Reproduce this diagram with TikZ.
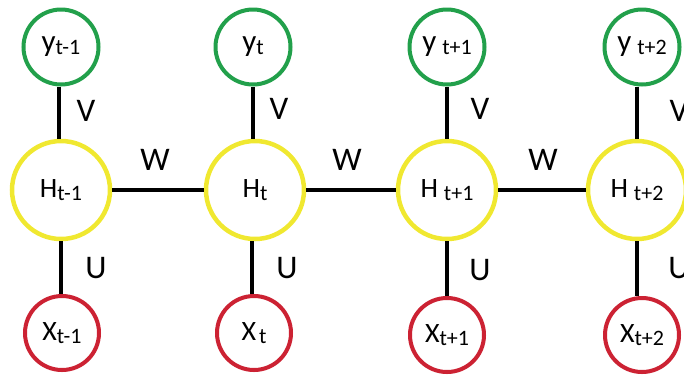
\documentclass[tikz,border=0pt]{standalone}
\usepackage{fontspec}
\setmainfont{Carlito}
\definecolor{cgrn}{RGB}{34,160,75}
\definecolor{cyel}{RGB}{240,232,48}
\definecolor{cred}{RGB}{204,34,51}
\newcommand\sbs[1]{\raisebox{-3pt}{\fontsize{22}{22}\selectfont #1}}
\newcommand\ylab[2]{{\fontsize{31}{31}\selectfont #1}#2}
\newcommand\hlab[2]{{\fontsize{28}{28}\selectfont #1}#2}
\newcommand\xlab[2]{{\fontsize{28}{28}\selectfont #1}#2}
\newcommand\gap{\hspace{6pt}}
\begin{document}
\begin{tikzpicture}[x=1pt,y=-1pt,
  outnode/.style={circle,draw=cgrn,line width=4pt,minimum size=75pt,inner sep=0pt},
  hidnode/.style={circle,draw=cyel,line width=4.5pt,minimum size=98pt,inner sep=0pt},
  innode/.style={circle,draw=cred,line width=4pt,minimum size=74pt,inner sep=0pt},
  conn/.style={line width=4.5pt,black},
  wlab/.style={font=\fontsize{33}{33}\selectfont,inner sep=0pt}]
\useasboundingbox (0,0) rectangle (684,376);
% columns
\node[outnode] (y1) at (61,47) {\ylab{y}{\sbs{t-1}}};
\node[outnode] (y2) at (253,47) {\ylab{y}{\sbs{t}}};
\node[outnode] (y3) at (447,47) {\ylab{y}{\gap\sbs{t+1}}};
\node[outnode] (y4) at (642,47) {\ylab{y}{\gap\sbs{t+2}}};
\node[hidnode] (h1) at (61,190) {\hlab{H}{\sbs{t-1}}};
\node[hidnode] (h2) at (255,190) {\hlab{H}{\sbs{t}}};
\node[hidnode] (h3) at (447,190) {\hlab{H}{\gap\sbs{t+1}}};
\node[hidnode] (h4) at (637,190) {\hlab{H}{\gap\sbs{t+2}}};
\node[innode] (x1) at (62,333) {\xlab{X}{\sbs{t-1}}};
\node[innode] (x2) at (254,333) {\xlab{X}{\hspace{3pt}\sbs{t}}};
\node[innode] (x3) at (447,335) {\xlab{X}{\sbs{t+1}}};
\node[innode] (x4) at (642,335) {\xlab{X}{\sbs{t+2}}};
% connectors
\draw[conn] (y1.south) ++(-2,0) coordinate (a1) -- (a1 |- h1.north);
\draw[conn] (y2.south) -- (y2.south |- h2.north);
\draw[conn] (y3.south) -- (y3.south |- h3.north);
\draw[conn] (h4.north) -- (h4.north |- y4.south);
\draw[conn] (h1.south) -- (h1.south |- x1.north);
\draw[conn] (h2.south) ++(-3,0) coordinate (b2) -- (b2 |- x2.north);
\draw[conn] (h3.south) -- (h3.south |- x3.north);
\draw[conn] (h4.south) -- (h4.south |- x4.north);
\draw[conn] (h1.east) -- (h2.west);
\draw[conn] (h2.east) -- (h3.west);
\draw[conn] (h3.east) -- (h4.west);
% weight labels
\node[wlab] (v1) at (86,111) {V};
\node[wlab] (v2) at (279,109) {V};
\node[wlab] (v3) at (480,109) {V};
\node[wlab] (v4) at (679,111) {V};
\node[wlab] (u1) at (96,268) {U};
\node[wlab] (u2) at (287,268) {U};
\node[wlab] (u3) at (480,270) {U};
\node[wlab] (u4) at (679,268) {U};
\node[wlab] (w1) at (155,160) {W};
\node[wlab] (w2) at (347,160) {W};
\node[wlab] (w3) at (543,160) {W};
\end{tikzpicture}
\end{document}
